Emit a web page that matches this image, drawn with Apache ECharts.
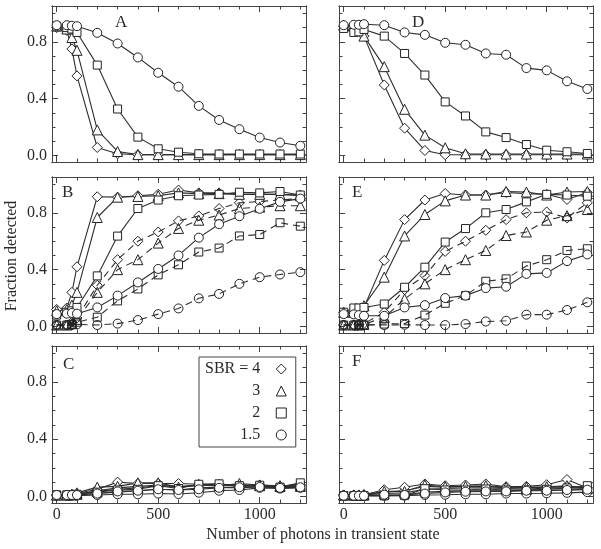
<!DOCTYPE html>
<html><head><meta charset="utf-8">
<script src="https://cdn.jsdelivr.net/npm/echarts@6/dist/echarts.min.js"></script>
<style>html,body{margin:0;padding:0;background:#fff}#c{width:601px;height:549px}</style>
</head><body><div id="c"></div><script>
// ---------- data ----------
const xValues = [0, 50, 75, 100, 200, 300, 400, 500, 600, 700, 800, 900, 1000, 1100, 1200];
const sbrNames = ['SBR = 4', '3', '2', '1.5'];
const sbrSymbols = ['diamond', 'triangle', 'rect', 'circle'];
const xTickLabels = [0, 500, 1000];
const xTickMinor = [0, 100, 200, 300, 400, 500, 600, 700, 800, 900, 1000, 1100, 1200];
const yTickLabels = [0, 0.4, 0.8];
const yTickMinor = [0, 0.1, 0.2, 0.3, 0.4, 0.5, 0.6, 0.7, 0.8, 0.9, 1.0];
const panelLetters = ['A', 'B', 'C', 'D', 'E', 'F'];
const xAxisTitle = 'Number of photons in transient state';
const yAxisTitle = 'Fraction detected';

// Panel A
const aDiamond  = [0.90, 0.88, 0.75, 0.56, 0.056, 0.012, 0.005, 0.005, 0.005, 0.005, 0.005, 0.005, 0.005, 0.005, 0.005];
const aTriangle = [0.91, 0.89, 0.83, 0.74, 0.18, 0.028, 0.006, 0.006, 0.006, 0.006, 0.006, 0.006, 0.006, 0.006, 0.006];
const aSquare   = [0.91, 0.90, 0.89, 0.866, 0.636, 0.327, 0.129, 0.047, 0.023, 0.012, 0.01, 0.01, 0.01, 0.01, 0.01];
const aCircle   = [0.917, 0.917, 0.913, 0.91, 0.863, 0.788, 0.69, 0.582, 0.484, 0.349, 0.25, 0.185, 0.126, 0.091, 0.068];

// Panel B (solid / dashed)
const bDiamond   = [0.12, 0.13, 0.24, 0.42, 0.913, 0.91, 0.92, 0.93, 0.96, 0.94, 0.94, 0.93, 0.93, 0.93, 0.925];
const bTriangle  = [0.11, 0.12, 0.15, 0.24, 0.767, 0.91, 0.915, 0.92, 0.94, 0.935, 0.935, 0.93, 0.93, 0.93, 0.92];
const bSquare    = [0.08, 0.10, 0.11, 0.134, 0.356, 0.636, 0.83, 0.89, 0.92, 0.925, 0.93, 0.945, 0.94, 0.95, 0.925];
const bCircle    = [0.087, 0.09, 0.095, 0.09, 0.134, 0.217, 0.31, 0.405, 0.50, 0.625, 0.72, 0.776, 0.828, 0.877, 0.90];
const bDiamondD  = [0.01, 0.01, 0.03, 0.06, 0.29, 0.47, 0.60, 0.665, 0.743, 0.778, 0.83, 0.87, 0.88, 0.89, 0.90];
const bTriangleD = [0.01, 0.01, 0.02, 0.05, 0.24, 0.40, 0.47, 0.587, 0.69, 0.748, 0.784, 0.83, 0.84, 0.85, 0.85];
const bSquareD   = [0.01, 0.01, 0.015, 0.03, 0.065, 0.18, 0.264, 0.363, 0.434, 0.524, 0.552, 0.637, 0.647, 0.73, 0.706];
const bCircleD   = [0.01, 0.01, 0.01, 0.015, 0.01, 0.02, 0.045, 0.087, 0.127, 0.198, 0.229, 0.30, 0.347, 0.366, 0.382];

// Panel C
const cDiamond   = [0.01, 0.01, 0.015, 0.02, 0.05, 0.10, 0.09, 0.09, 0.09, 0.085, 0.085, 0.08, 0.08, 0.07, 0.085];
const cTriangle  = [0.01, 0.01, 0.015, 0.025, 0.065, 0.07, 0.095, 0.095, 0.065, 0.08, 0.075, 0.09, 0.08, 0.075, 0.08];
const cSquare    = [0.01, 0.01, 0.01, 0.015, 0.03, 0.045, 0.05, 0.075, 0.055, 0.085, 0.088, 0.075, 0.078, 0.065, 0.095];
const cCircle    = [0.01, 0.01, 0.01, 0.01, 0.02, 0.035, 0.04, 0.05, 0.045, 0.05, 0.06, 0.064, 0.066, 0.06, 0.064];
const cDiamond2  = [0.01, 0.01, 0.01, 0.015, 0.04, 0.06, 0.07, 0.08, 0.065, 0.08, 0.08, 0.07, 0.075, 0.065, 0.075];
const cTriangle2 = [0.01, 0.01, 0.01, 0.015, 0.035, 0.05, 0.06, 0.075, 0.07, 0.075, 0.08, 0.08, 0.075, 0.07, 0.07];
const cSquare2   = [0.01, 0.01, 0.01, 0.01, 0.02, 0.03, 0.04, 0.05, 0.045, 0.06, 0.065, 0.06, 0.07, 0.06, 0.07];
const cCircle2   = [0.005, 0.005, 0.005, 0.005, 0.01, 0.015, 0.015, 0.02, 0.017, 0.026, 0.04, 0.045, 0.06, 0.055, 0.06];

// Panel D
const dDiamond  = [0.91, 0.90, 0.88, 0.84, 0.496, 0.192, 0.035, 0.005, 0.005, 0.005, 0.005, 0.005, 0.005, 0.005, 0.005];
const dTriangle = [0.917, 0.91, 0.90, 0.84, 0.625, 0.325, 0.143, 0.054, 0.012, 0.01, 0.01, 0.01, 0.01, 0.01, 0.01];
const dSquare   = [0.894, 0.866, 0.87, 0.887, 0.84, 0.718, 0.566, 0.377, 0.278, 0.166, 0.126, 0.077, 0.037, 0.026, 0.014];
const dCircle   = [0.917, 0.92, 0.92, 0.924, 0.917, 0.866, 0.849, 0.793, 0.779, 0.718, 0.709, 0.615, 0.599, 0.522, 0.468];

// Panel E (solid / dashed)
const eDiamond   = [0.10, 0.10, 0.11, 0.134, 0.465, 0.752, 0.89, 0.936, 0.925, 0.925, 0.943, 0.935, 0.93, 0.894, 0.943];
const eTriangle  = [0.10, 0.10, 0.11, 0.146, 0.347, 0.637, 0.788, 0.884, 0.925, 0.925, 0.95, 0.946, 0.925, 0.946, 0.95];
const eSquare    = [0.10, 0.13, 0.13, 0.134, 0.158, 0.276, 0.417, 0.594, 0.689, 0.80, 0.823, 0.877, 0.93, 0.925, 0.917];
const eCircle    = [0.087, 0.085, 0.08, 0.075, 0.075, 0.134, 0.15, 0.20, 0.217, 0.27, 0.28, 0.37, 0.377, 0.46, 0.507];
const eDiamondD  = [0.01, 0.01, 0.015, 0.02, 0.10, 0.26, 0.358, 0.528, 0.60, 0.677, 0.752, 0.80, 0.806, 0.764, 0.87];
const eTriangleD = [0.01, 0.01, 0.01, 0.015, 0.064, 0.193, 0.30, 0.40, 0.47, 0.535, 0.64, 0.665, 0.748, 0.78, 0.823];
const eSquareD   = [0.01, 0.01, 0.01, 0.01, 0.017, 0.02, 0.08, 0.163, 0.217, 0.318, 0.335, 0.425, 0.47, 0.535, 0.547];
const eCircleD   = [0.01, 0.01, 0.01, 0.01, 0.01, 0.012, 0.01, 0.01, 0.017, 0.035, 0.04, 0.083, 0.083, 0.116, 0.17];

// Panel F
const fDiamond   = [0.01, 0.01, 0.01, 0.012, 0.047, 0.064, 0.087, 0.075, 0.08, 0.087, 0.068, 0.07, 0.082, 0.118, 0.059];
const fTriangle  = [0.01, 0.01, 0.01, 0.012, 0.035, 0.035, 0.08, 0.068, 0.07, 0.075, 0.064, 0.064, 0.068, 0.075, 0.059];
const fSquare    = [0.005, 0.005, 0.005, 0.005, 0.005, 0.007, 0.054, 0.045, 0.045, 0.052, 0.045, 0.045, 0.05, 0.059, 0.075];
const fCircle    = [0.005, 0.005, 0.005, 0.005, 0.012, 0.01, 0.02, 0.028, 0.033, 0.035, 0.035, 0.04, 0.04, 0.045, 0.047];
const fDiamond2  = [0.01, 0.01, 0.01, 0.01, 0.03, 0.04, 0.07, 0.065, 0.07, 0.07, 0.06, 0.06, 0.065, 0.07, 0.06];
const fTriangle2 = [0.01, 0.01, 0.01, 0.01, 0.02, 0.025, 0.05, 0.055, 0.06, 0.06, 0.055, 0.05, 0.06, 0.06, 0.055];
const fSquare2   = [0.005, 0.005, 0.005, 0.005, 0.005, 0.01, 0.03, 0.035, 0.04, 0.04, 0.04, 0.042, 0.045, 0.045, 0.05];
const fCircle2   = [0.005, 0.005, 0.005, 0.005, 0.005, 0.005, 0.01, 0.012, 0.015, 0.015, 0.02, 0.02, 0.022, 0.025, 0.03];

// ---------- layout ----------
const FONT = 'Liberation Serif';
const INK = '#2a2a2a';
const X_MIN = -23, X_MAX = 1228, Y_MIN = -0.046, Y_MAX = 1.052;
const boxes = [
  { left: 52, top: 6, width: 254, height: 156 },
  { left: 52, top: 177, width: 254, height: 156 },
  { left: 52, top: 346, width: 254, height: 157 },
  { left: 339, top: 6, width: 254, height: 156 },
  { left: 339, top: 177, width: 254, height: 156 },
  { left: 339, top: 346, width: 254, height: 157 }
];
const letterPos = [[115, 14], [62, 184], [63, 356], [412, 14], [352, 184], [352, 353]];
const panels = [
  { solid: [aDiamond, aTriangle, aSquare, aCircle], second: null, dashed: false },
  { solid: [bDiamond, bTriangle, bSquare, bCircle], second: [bDiamondD, bTriangleD, bSquareD, bCircleD], dashed: true },
  { solid: [cDiamond, cTriangle, cSquare, cCircle], second: [cDiamond2, cTriangle2, cSquare2, cCircle2], dashed: false },
  { solid: [dDiamond, dTriangle, dSquare, dCircle], second: null, dashed: false },
  { solid: [eDiamond, eTriangle, eSquare, eCircle], second: [eDiamondD, eTriangleD, eSquareD, eCircleD], dashed: true },
  { solid: [fDiamond, fTriangle, fSquare, fCircle], second: [fDiamond2, fTriangle2, fSquare2, fCircle2], dashed: false }
];
const symSize = { diamond: 10, triangle: 10, rect: 8, circle: 9 };

const grid = [], xAxis = [], yAxis = [], series = [], graphic = [];

function xAx(g, pos, major, labels) {
  return {
    type: 'value', gridIndex: g, position: pos, min: X_MIN, max: X_MAX,
    axisLine: { show: true, onZero: false, lineStyle: { color: '#444', width: 1 } },
    axisTick: { show: true, inside: true, length: major ? 6 : 3.5, customValues: major ? xTickLabels : xTickMinor, lineStyle: { color: '#444' } },
    axisLabel: { show: labels, customValues: xTickLabels, fontFamily: FONT, fontSize: 16, color: INK, margin: 4,
      formatter: v => String(Math.round(v)) },
    splitLine: { show: false }
  };
}
function yAx(g, pos, major, labels) {
  return {
    type: 'value', gridIndex: g, position: pos, min: Y_MIN, max: Y_MAX,
    axisLine: { show: true, onZero: false, lineStyle: { color: '#444', width: 1 } },
    axisTick: { show: true, inside: true, length: major ? 6 : 3.5, customValues: major ? yTickLabels : yTickMinor, lineStyle: { color: '#444' } },
    axisLabel: { show: labels, customValues: yTickLabels, fontFamily: FONT, fontSize: 16, color: INK, margin: 5,
      formatter: v => v.toFixed(1) },
    splitLine: { show: false }
  };
}

panels.forEach((p, g) => {
  grid.push(Object.assign({ containLabel: false }, boxes[g]));
  const bottomRow = (g === 2 || g === 5);
  const leftCol = g < 3;
  const xi = xAxis.length, yi = yAxis.length;
  xAxis.push(xAx(g, 'bottom', true, bottomRow), xAx(g, 'bottom', false, false), xAx(g, 'top', true, false), xAx(g, 'top', false, false));
  yAxis.push(yAx(g, 'left', true, leftCol), yAx(g, 'left', false, false), yAx(g, 'right', true, false), yAx(g, 'right', false, false));
  const addSet = (arrs, dashed) => {
    arrs.forEach((arr, k) => {
      const sym = sbrSymbols[k];
      series.push({
        type: 'line', name: sbrNames[k], xAxisIndex: xi, yAxisIndex: yi,
        data: xValues.map((x, i) => [x, arr[i]]),
        symbol: sym, symbolSize: symSize[sym], showAllSymbol: true,
        lineStyle: { color: '#2e2e2e', width: 1.1, type: dashed ? [7, 5] : 'solid' },
        itemStyle: { color: dashed ? 'rgba(255,255,255,0)' : '#fff', borderColor: '#222', borderWidth: 1 },
        emphasis: { disabled: true }, silent: true, z: 3
      });
    });
  };
  if (p.second) addSet(p.second, p.dashed);
  addSet(p.solid, false);
  graphic.push({ type: 'text', left: letterPos[g][0], top: letterPos[g][1],
    style: { text: panelLetters[g], fontFamily: FONT, fontSize: 17, fill: INK } });
});

graphic.push({ type: 'text', x: 12, y: 256, rotation: Math.PI / 2,
  style: { text: yAxisTitle, fontFamily: FONT, fontSize: 16, fill: INK, align: 'center', verticalAlign: 'middle' } });
graphic.push({ type: 'text', x: 323, y: 535,
  style: { text: xAxisTitle, fontFamily: FONT, fontSize: 16, fill: INK, align: 'center', verticalAlign: 'middle' } });

const option = {
  animation: false,
  backgroundColor: '#fff',
  grid, xAxis, yAxis, series, graphic,
  legend: {
    show: true, orient: 'vertical', align: 'right', left: 199, top: 357,
    padding: [4, 9, 4, 6], itemGap: 6, itemWidth: 10, itemHeight: 10,
    borderColor: '#444', borderWidth: 1, backgroundColor: '#fff',
    selectedMode: false,
    itemStyle: { color: '#fff', borderColor: '#222', borderWidth: 1 },
    textStyle: { fontFamily: FONT, fontSize: 16, color: INK, lineHeight: 16, padding: [0, 11, 0, 0] },
    data: sbrNames.map((n, k) => ({ name: n, icon: sbrSymbols[k] }))
  }
};
const chart = echarts.init(document.getElementById('c'), null, { renderer: 'canvas' });
chart.setOption(option);
</script></body></html>
